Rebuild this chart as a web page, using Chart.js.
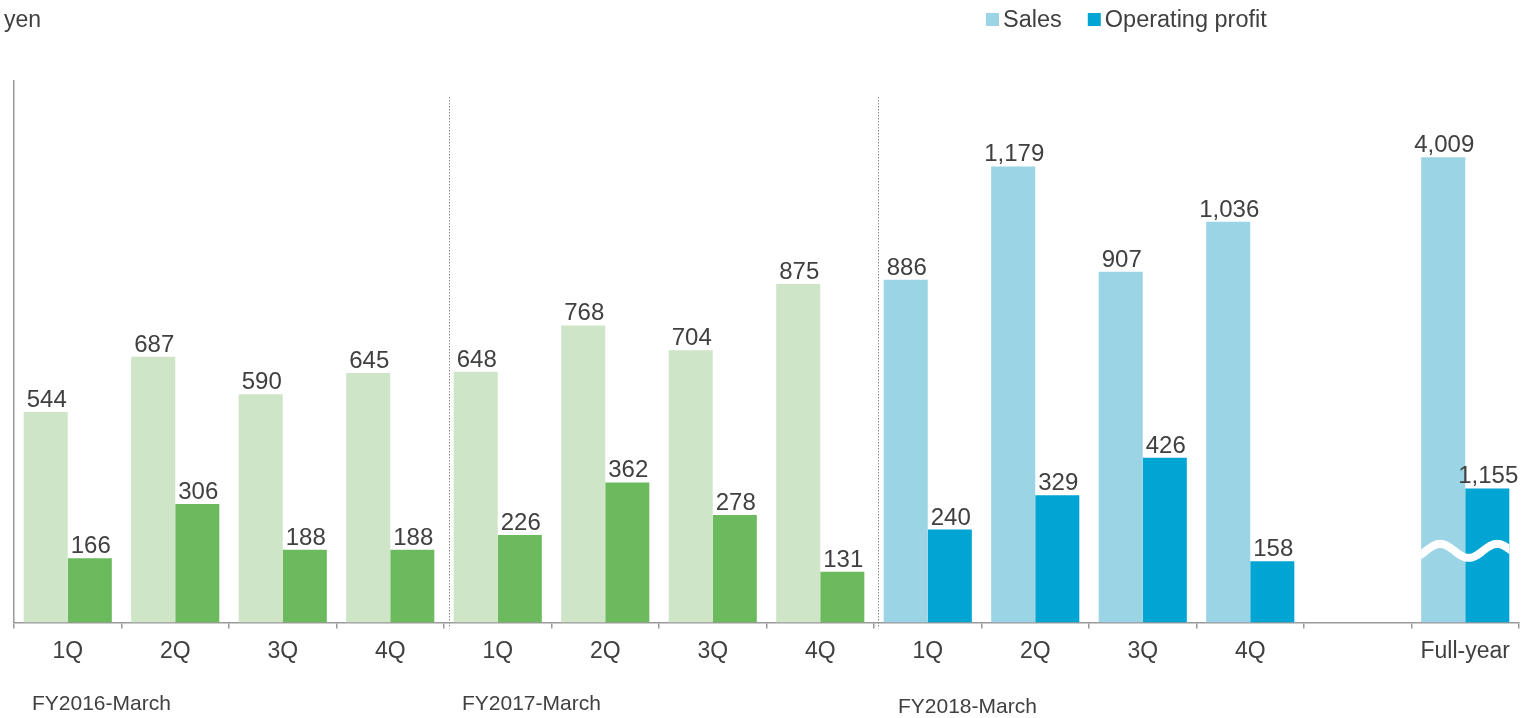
<!DOCTYPE html>
<html>
<head>
<meta charset="utf-8">
<script src="https://cdn.jsdelivr.net/npm/chart.js@4/dist/chart.umd.min.js"></script>
<style>
  html, body { margin: 0; padding: 0; background: #fff; }
  canvas { display: block; }
</style>
</head>
<body>
<canvas id="salesChart" width="1523" height="718"></canvas>
<script>
// Quarterly sales / operating profit, three fiscal years plus the FY2018 full-year total
const quarterLabels = ['1Q', '2Q', '3Q', '4Q', '1Q', '2Q', '3Q', '4Q', '1Q', '2Q', '3Q', '4Q', '', 'Full-year'];
const fiscalYears = ['FY2016-March', 'FY2017-March', 'FY2018-March'];
const fiscalYearOfQuarter = [0, 0, 0, 0, 1, 1, 1, 1, 2, 2, 2, 2];
const salesQ = [544, 687, 590, 645, 648, 768, 704, 875, 886, 1179, 907, 1036];
const profitQ = [166, 306, 188, 188, 226, 362, 278, 131, 240, 329, 426, 158];
const salesFullYear = 4009;
const profitFullYear = 1155;

const Y_MAX = 1400;
const FULL_YEAR_SCALE = 0.3;   // full-year bars are drawn compressed (axis break)

const FONT = '"Liberation Sans", Arial, Helvetica, sans-serif';
const TEXT = '#404040';
const AXIS = '#9a9a9a';
const salesColors = ['#cfe5c7', '#cfe5c7', '#9bd5e5'];
const profitColors = ['#6bbb5e', '#6bbb5e', '#00a5d4'];

Chart.defaults.font.family = FONT;
Chart.defaults.color = TEXT;

const emptyTail = Array(quarterLabels.length - salesQ.length).fill(null);
const emptyHead = Array(quarterLabels.length - 1).fill(null);

// wavy break on the full-year bars, then value labels above each bar
const barLabels = {
    id: 'barLabels',
    afterDatasetsDraw(chart) {
        const ctx = chart.ctx;
        const last = quarterLabels.length - 1;
        const fyA = chart.getDatasetMeta(2).data[last];
        const fyB = chart.getDatasetMeta(3).data[last];
        if (fyA && fyB) {
            const x0 = fyA.x - fyA.width / 2;
            const x1 = fyB.x + fyB.width / 2;
            const yc = chart.scales.y.getPixelForValue(185);
            ctx.save();
            ctx.beginPath();
            ctx.rect(x0, chart.chartArea.top, x1 - x0, chart.chartArea.bottom - chart.chartArea.top);
            ctx.clip();
            ctx.strokeStyle = '#ffffff';
            ctx.lineWidth = 8;
            ctx.beginPath();
            for (let x = x0 - 4; x <= x1 + 4; x += 1) {
                const y = yc - 7 * Math.cos(2 * Math.PI * (x - (x0 + 19)) / 57);
                if (x === x0 - 4) ctx.moveTo(x, y); else ctx.lineTo(x, y);
            }
            ctx.stroke();
            ctx.restore();
        }

        ctx.save();
        ctx.font = '24px ' + FONT;
        ctx.fillStyle = TEXT;
        ctx.textAlign = 'center';
        ctx.textBaseline = 'alphabetic';
        chart.data.datasets.forEach((ds, i) => {
            const meta = chart.getDatasetMeta(i);
            meta.data.forEach((bar, j) => {
                const v = ds.data[j];
                if (v === null || v === undefined) return;
                ctx.fillText(v.toLocaleString('en-US'), bar.x + 1, bar.y - 5);
            });
        });
        ctx.restore();
    }
};

// unit, legend, fiscal-year captions and dotted year separators
const decorations = {
    id: 'decorations',
    afterDraw(chart) {
        const ctx = chart.ctx;
        const xs = chart.scales.x;
        const area = chart.chartArea;
        const step = xs.getPixelForValue(1) - xs.getPixelForValue(0);
        const boundary = i => xs.getPixelForValue(i) - step / 2;

        ctx.save();
        ctx.strokeStyle = '#8a8a8a';
        ctx.lineWidth = 1;
        ctx.setLineDash([1.5, 1.5]);
        [4, 8].forEach(i => {
            const x = Math.round(boundary(i) + 4.5) + 0.5;
            ctx.beginPath();
            ctx.moveTo(x, area.top + 16);
            ctx.lineTo(x, area.bottom + 6);
            ctx.stroke();
        });
        ctx.restore();

        ctx.save();
        ctx.fillStyle = TEXT;
        ctx.textBaseline = 'alphabetic';
        ctx.textAlign = 'left';
        ctx.font = '23px ' + FONT;
        ctx.fillText('yen', 4, 27);

        // legend
        ctx.font = '23.5px ' + FONT;
        let lx = 986;
        [['Sales', salesColors[2]], ['Operating profit', profitColors[2]]].forEach(([label, color]) => {
            ctx.fillStyle = color;
            ctx.fillRect(lx, 13, 13, 13);
            ctx.fillStyle = TEXT;
            ctx.fillText(label, lx + 17, 26.5);
            lx += 17 + ctx.measureText(label).width + 26;
        });

        ctx.font = '21px ' + FONT;
        fiscalYears.forEach((fy, k) => {
            const x = boundary(k * 4) + (k === 2 ? 24 : 18);
            ctx.fillText(fy, x, k === 2 ? 713 : 710);
        });
        ctx.restore();
    }
};

new Chart(document.getElementById('salesChart'), {
    type: 'bar',
    data: {
        labels: quarterLabels,
        datasets: [
            {
                label: 'Sales',
                data: salesQ.concat(emptyTail),
                backgroundColor: fiscalYearOfQuarter.map(k => salesColors[k]),
                yAxisID: 'y'
            },
            {
                label: 'Operating profit',
                data: profitQ.concat(emptyTail),
                backgroundColor: fiscalYearOfQuarter.map(k => profitColors[k]),
                yAxisID: 'y'
            },
            {
                label: 'Sales (full-year)',
                data: emptyHead.concat([salesFullYear]),
                backgroundColor: salesColors[2],
                yAxisID: 'y2'
            },
            {
                label: 'Operating profit (full-year)',
                data: emptyHead.concat([profitFullYear]),
                backgroundColor: profitColors[2],
                yAxisID: 'y2'
            }
        ]
    },
    options: {
        responsive: false,
        animation: false,
        skipNull: true,
        categoryPercentage: 0.82,
        barPercentage: 1.0,
        layout: {
            padding: { top: 81, left: 14, right: 4, bottom: 44 }
        },
        plugins: {
            legend: { display: false },
            tooltip: { enabled: false }
        },
        scales: {
            x: {
                grid: {
                    offset: true,
                    drawOnChartArea: false,
                    tickLength: 6,
                    color: AXIS,
                    lineWidth: 1.5
                },
                border: { color: AXIS, width: 1.5 },
                ticks: {
                    color: TEXT,
                    font: { size: 23 },
                    padding: 9,
                    maxRotation: 0,
                    autoSkip: false
                }
            },
            y: {
                min: 0,
                max: Y_MAX,
                grid: { display: false, drawTicks: false },
                border: { color: AXIS, width: 1.5 },
                ticks: { display: false }
            },
            y2: {
                display: false,
                min: 0,
                max: Y_MAX / FULL_YEAR_SCALE
            }
        }
    },
    plugins: [barLabels, decorations]
});
</script>
</body>
</html>
